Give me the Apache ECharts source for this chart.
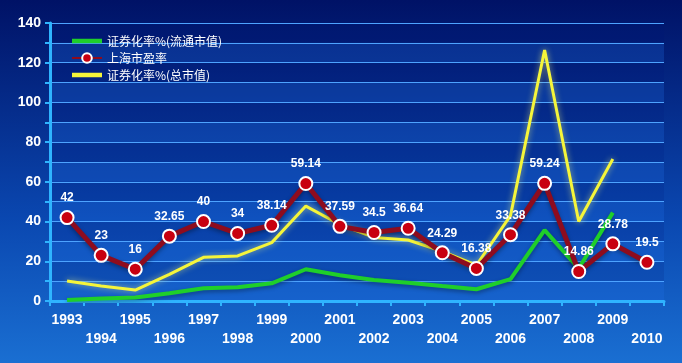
<!DOCTYPE html>
<html><head><meta charset="utf-8">
<script src="https://cdn.jsdelivr.net/npm/echarts@6/dist/echarts.min.js"></script>
<style>html,body{margin:0;padding:0;background:#0a3a9e}#c{width:682px;height:363px}</style>
</head><body><div id="c"></div>
<script>
const years = ['1993','1994','1995','1996','1997','1998','1999','2000','2001','2002','2003','2004','2005','2006','2007','2008','2009','2010'];
const peShanghai = [42, 23, 16, 32.65, 40, 34, 38.14, 59.14, 37.59, 34.5, 36.64, 24.29, 16.38, 33.38, 59.24, 14.86, 28.78, 19.5];
const secFloat = [0.5, 1.3, 1.8, 3.9, 6.4, 6.9, 8.9, 16, 13, 10.6, 9.2, 7.5, 5.9, 11, 35.7, 16.4, 44.5, null];
const secTotal = [10.1, 7.6, 5.5, 13.4, 22, 22.7, 29.4, 47.8, 38.5, 32, 30.7, 25, 18, 43, 126.4, 40, 71.5, null];
const names = ['证券化率%(流通市值)', '上海市盈率', '证券化率%(总市值)'];

const lineIcon = 'path://M0,0 L60,0 L60,9 L0,9 Z';
const chart = echarts.init(document.getElementById('c'));
chart.setOption({
  backgroundColor: new echarts.graphic.LinearGradient(0, 0, 0, 1, [
    {offset: 0, color: '#001266'}, {offset: 0.6, color: '#0a47b0'}, {offset: 1, color: '#1a6fd2'}
  ]),
  animation: false,
  grid: {left: 50, right: 18, top: 23, bottom: 62},
  legend: {
    orient: 'vertical', left: 66, top: 30, itemGap: 5, itemWidth: 30, itemHeight: 12,
    textStyle: {color: '#ffffff', fontSize: 12, fontFamily: 'Noto Sans CJK SC'},
    data: [
      {name: names[0], icon: lineIcon},
      {name: names[1]},
      {name: names[2], icon: lineIcon}
    ]
  },
  xAxis: {
    type: 'category', data: years, boundaryGap: true,
    axisLine: {lineStyle: {color: '#2fb4ff', width: 3}},
    axisTick: {show: true, interval: 0, length: 5, lineStyle: {color: '#2fb4ff', width: 2}},
    axisLabel: {
      interval: 0, color: '#ffffff', fontWeight: 'bold', fontSize: 14, fontFamily: 'Liberation Sans',
      lineHeight: 19, margin: 10,
      formatter: (v, i) => (i % 2 ? '\n' + v : v)
    }
  },
  yAxis: {
    type: 'value', min: 0, max: 140, interval: 10,
    axisLine: {show: true, lineStyle: {color: '#2fb4ff', width: 3}},
    axisTick: {show: true, length: 5, lineStyle: {color: '#2fb4ff', width: 2}},
    axisLabel: {
      color: '#ffffff', fontWeight: 'bold', fontSize: 14, fontFamily: 'Liberation Sans', margin: 9,
      formatter: v => (v % 20 === 0 ? String(v) : '')
    },
    splitLine: {show: true, lineStyle: {color: '#4da3ff', width: 1.2}},
    splitArea: {show: true, areaStyle: {color: ['rgba(30,110,230,0.25)', 'rgba(0,20,120,0.15)']}}
  },
  series: [
    {
      name: names[0], type: 'line', data: secFloat, symbol: 'none', z: 2,
      lineStyle: {color: '#1fcf2a', width: 4, shadowColor: 'rgba(0,0,0,0.35)', shadowBlur: 4, shadowOffsetY: 2},
      itemStyle: {color: '#1fcf2a'}
    },
    {
      name: names[1], type: 'line', data: peShanghai, symbol: 'circle', symbolSize: 13, z: 4,
      lineStyle: {color: '#8e0c1e', width: 5, shadowColor: 'rgba(0,0,0,0.35)', shadowBlur: 4, shadowOffsetY: 2},
      itemStyle: {color: '#c80010', borderColor: '#ffffff', borderWidth: 2},
      label: {
        show: true, position: 'top', distance: 6, color: '#ffffff', fontWeight: 'bold', fontSize: 12,
        fontFamily: 'Liberation Sans'
      }
    },
    {
      name: names[2], type: 'line', data: secTotal, symbol: 'none', z: 3,
      lineStyle: {color: '#f5f53a', width: 3, shadowColor: 'rgba(255,255,120,0.6)', shadowBlur: 6},
      itemStyle: {color: '#f5f53a'}
    }
  ]
});
</script></body></html>
